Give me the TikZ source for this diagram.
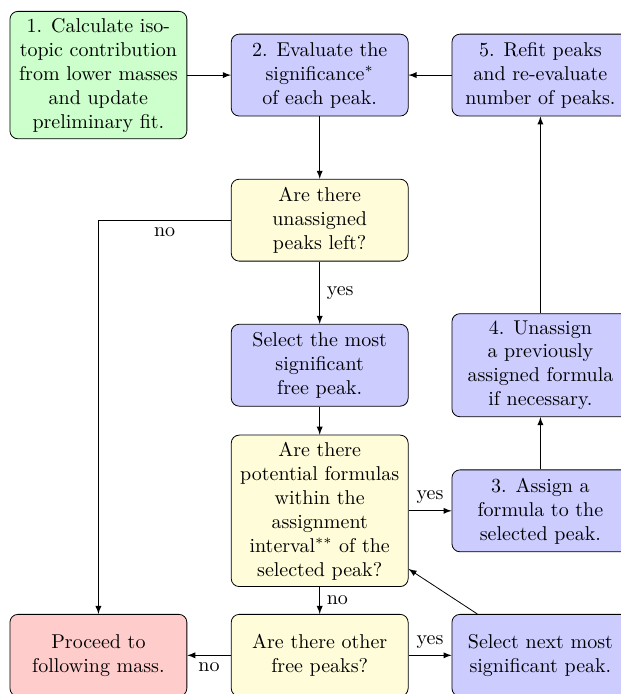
\documentclass[tikz,border=0pt]{standalone}
\usepackage{tikz}
\usepackage{xcolor}
\usetikzlibrary{arrows}

\tikzset{
  stepbox/.style={draw,rounded corners,align=center,minimum width=3.11cm,minimum height=1.44cm},
  startbox/.style={stepbox,fill=green!20},
  taskbox/.style={stepbox,fill=blue!20},
  askbox/.style={stepbox,fill=yellow!15},
  endbox/.style={stepbox,fill=red!20},
  flow/.style={->,>=latex}
}

\begin{document}
\begin{tikzpicture}
\useasboundingbox (0,0) rectangle (10.9,-12.2);
\node[startbox] (isotope) at (1.73,-1.32) {1. Calculate iso-\\topic contribution\\from lower masses\\and update\\preliminary fit.};
\node[taskbox] (evaluate) at (5.62,-1.32) {2. Evaluate the\\significance$^{*}$\\of each peak.};
\node[taskbox] (refit) at (9.50,-1.32) {5. Refit peaks\\and re-evaluate\\number of peaks.};
\node[askbox] (unassigned) at (5.62,-3.87) {Are there\\unassigned\\peaks left?};
\node[taskbox] (selectmost) at (5.62,-6.42) {Select the most\\significant\\free peak.};
\node[taskbox] (unassign) at (9.50,-6.42) {4. Unassign\\a previously\\assigned formula\\if necessary.};
\node[askbox] (formulas) at (5.62,-8.98) {Are there\\potential formulas\\within the\\assignment\\interval$^{**}$ of the\\selected peak?};
\node[taskbox] (assign) at (9.50,-8.98) {3. Assign a\\formula to the\\selected peak.};
\node[endbox] (proceed) at (1.73,-11.52) {Proceed to\\following mass.};
\node[askbox] (otherfree) at (5.62,-11.52) {Are there other\\free peaks?};
\node[taskbox] (selectnext) at (9.50,-11.52) {Select next most\\significant peak.};
% main loop
\draw[flow] (isotope)--(evaluate);
\draw[flow] (refit)--(evaluate);
\draw[flow] (evaluate)--(unassigned);
\draw[flow] (unassigned)--node[right]{yes}(selectmost);
\draw[flow] (unassigned.west)-|node[pos=0.25,below]{no}(proceed.north);
\draw[flow] (selectmost)--(formulas);
\draw[flow] (formulas)--node[above]{yes}(assign);
\draw[flow] (assign)--(unassign);
\draw[flow] (unassign)--(refit);
\draw[flow] (formulas)--node[right]{no}(otherfree);
\draw[flow] (otherfree)--node[below]{no}(proceed);
\draw[flow] (otherfree)--node[above]{yes}(selectnext);
\draw[flow] (selectnext)--(formulas);
\end{tikzpicture}
\end{document}
